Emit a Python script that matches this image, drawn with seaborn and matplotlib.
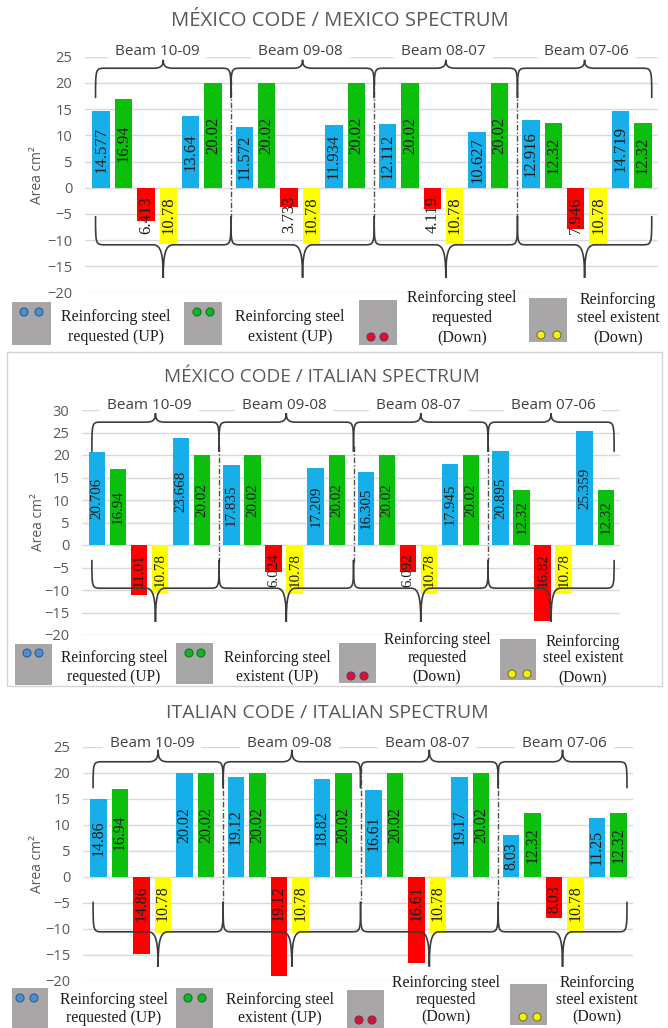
import numpy as np
import pandas as pd
import matplotlib
matplotlib.use("Agg")
import matplotlib.pyplot as plt
import seaborn as sns
from matplotlib.path import Path
from matplotlib.patches import PathPatch, Rectangle, Ellipse

sns.set_theme(style="white")
plt.rcParams["font.family"] = ["Open Sans", "DejaVu Sans"]
SERIF = ["Liberation Serif", "DejaVu Serif"]

W, H = 668, 1028  # figure size in pixels (dpi 100)

# ---------------------------------------------------------------- data
beams = ["Beam 10-09", "Beam 09-08", "Beam 08-07", "Beam 07-06"]
# order of the six bars inside every beam
bar_kinds = ["req_up", "ext_up", "req_down", "ext_down", "req_up", "ext_up"]
kind_colors = {"req_up": "#17AFEA", "ext_up": "#0DBF0D",
               "req_down": "#FF0000", "ext_down": "#FFFF00"}

titles = ["MÉXICO CODE / MEXICO SPECTRUM",
          "MÉXICO CODE / ITALIAN SPECTRUM",
          "ITALIAN CODE / ITALIAN SPECTRUM"]

# steel area (cm²), beam by beam; bottom steel drawn downward
mex_code_mex_spec = [14.577, 16.94, -6.413, -10.78, 13.64, 20.02,
                     11.572, 20.02, -3.733, -10.78, 11.934, 20.02,
                     12.112, 20.02, -4.119, -10.78, 10.627, 20.02,
                     12.916, 12.32, -7.946, -10.78, 14.719, 12.32]
mex_code_ita_spec = [20.706, 16.94, -11.01, -10.78, 23.668, 20.02,
                     17.835, 20.02, -6.024, -10.78, 17.209, 20.02,
                     16.305, 20.02, -6.092, -10.78, 17.945, 20.02,
                     20.895, 12.32, -16.82, -10.78, 25.359, 12.32]
ita_code_ita_spec = [14.86, 16.94, -14.86, -10.78, 20.02, 20.02,
                     19.12, 20.02, -19.12, -10.78, 18.82, 20.02,
                     16.61, 20.02, -16.61, -10.78, 19.17, 20.02,
                     8.03, 12.32, -8.03, -10.78, 11.25, 12.32]

y_ranges = [(-20, 25), (-20, 30), (-20, 25)]

legend_labels = [["Reinforcing steel", "requested (UP)"],
                 ["Reinforcing steel", "existent (UP)"],
                 ["Reinforcing steel", "requested", "(Down)"],
                 ["Reinforcing", "steel existent", "(Down)"]]
legend_dot_colors = [("#4A8FD6", "#2E5E96"), ("#12B52A", "#0B7A1B"),
                     ("#E0102A", "#7A2A6A"), ("#F2F20E", "#7A7A20")]

# ---------------------------------------------------------------- layout
BEAM_STEP = 6.4
SEPARATORS = [5.8, 12.2, 18.6]
BRACE_SPANS = [(-0.25, 5.8), (5.8, 12.2), (12.2, 18.6), (18.6, 24.6)]

panels = [
    dict(values=mex_code_mex_spec, title=titles[0], ylim=y_ranges[0],
         rect=(85, 658, 56.7, 292.5), title_xy=(340, 21), title_fs=14.6,
         beam_y=25.9, bar_fs=12.0, tick_fs=10.5,
         top=(17.1, 22.8, 24.4), bottom=(-5.4, -10.9, -17.2), sep=(20.5, -5.6),
         ylabel_x=45, legend_fs=11.5,
         boxes=[(12, 51, 302, 345), (184, 222, 302, 345), (359, 397, 300, 345), (529, 567, 298, 342)],
         dots=[[(24, 312), (39, 312)], [(197, 312), (210, 312)], [(371, 337), (384, 337)], [(541, 335), (557, 335)]],
         text_x=[116, 290, 462, 618],
         text_y=[[317, 337], [317, 337], [298, 318, 338], [300, 318, 338]]),
    dict(values=mex_code_ita_spec, title=titles[1], ylim=y_ranges[1],
         rect=(82, 620, 410, 635), title_xy=(322, 377), title_fs=13.7,
         beam_y=31.1, bar_fs=10.8, tick_fs=10.5,
         top=(20.7, 27.3, 29.3), bottom=(-3.3, -9.6, -17.1), sep=(22.0, -3.8),
         ylabel_x=46, legend_fs=11.2,
         boxes=[(15, 52, 644, 685), (176, 213, 643, 684), (339, 376, 643, 683), (500, 536, 639, 680)],
         dots=[[(27, 653), (39, 653)], [(189, 653), (201, 653)], [(351, 676), (364, 676)], [(512, 674), (527, 674)]],
         text_x=[114, 277, 437, 583],
         text_y=[[658, 677], [658, 677], [640, 658, 677], [642, 658, 678]]),
    dict(values=ita_code_ita_spec, title=titles[2], ylim=y_ranges[2],
         rect=(83, 633, 746.7, 980.7), title_xy=(327, 713), title_fs=14.0,
         beam_y=25.7, bar_fs=11.4, tick_fs=10.5,
         top=(17.0, 22.1, 24.4), bottom=(-4.8, -10.6, -17.3), sep=(21.0, -5.0),
         ylabel_x=45, legend_fs=11.3,
         boxes=[(12, 48, 988, 1032), (176, 213, 988, 1032), (347, 384, 990, 1032), (510, 547, 984, 1025)],
         dots=[[(20, 998), (34, 998)], [(188, 998), (202, 998)], [(359, 1020), (372, 1020)], [(523, 1017), (537, 1017)]],
         text_x=[114, 280, 446, 597],
         text_y=[[1000, 1018], [1000, 1018], [983, 1000, 1017], [983, 1000, 1017]]),
]


def fx(x):
    return x / W


def fy(y):
    return 1 - y / H


def brace(ax, x0, x1, y_end, y_h, y_tip, r=0.45):
    xm = (x0 + x1) / 2
    k = y_tip - y_h
    verts = [(x0, y_end),
             (x0, y_h), (x0, y_h), (x0 + r, y_h),
             (xm - r, y_h),
             (xm - r * 0.2, y_h), (xm, y_h + 0.3 * k), (xm, y_tip),
             (xm, y_h + 0.3 * k), (xm + r * 0.2, y_h), (xm + r, y_h),
             (x1 - r, y_h),
             (x1, y_h), (x1, y_h), (x1, y_end)]
    codes = [Path.MOVETO,
             Path.CURVE4, Path.CURVE4, Path.CURVE4,
             Path.LINETO,
             Path.CURVE4, Path.CURVE4, Path.CURVE4,
             Path.CURVE4, Path.CURVE4, Path.CURVE4,
             Path.LINETO,
             Path.CURVE4, Path.CURVE4, Path.CURVE4]
    ax.add_patch(PathPatch(Path(verts, codes), fill=False, edgecolor="#3c3c3c",
                           lw=1.2, zorder=5, clip_on=False))


fig = plt.figure(figsize=(W / 100, H / 100), dpi=100)
fig.patch.set_facecolor("white")

# light frame around the middle chart
fig.add_artist(Rectangle((fx(7), fy(686)), (662 - 7) / W, (686 - 352) / H,
                         transform=fig.transFigure, fill=False,
                         edgecolor="#D4D4D4", lw=1))

for p in panels:
    left, right, top, bottom = p["rect"]
    ax = fig.add_axes([fx(left), fy(bottom), (right - left) / W, (bottom - top) / H])

    n_beams = len(beams)
    df = pd.DataFrame({
        "pos": [b * BEAM_STEP + i for b in range(n_beams) for i in range(len(bar_kinds))],
        "value": p["values"],
        "kind": bar_kinds * n_beams,
    })

    sns.barplot(data=df, x="pos", y="value", hue="kind", palette=kind_colors,
                native_scale=True, dodge=False, width=0.78, saturation=1,
                linewidth=0, errorbar=None, legend=False, ax=ax, zorder=2)

    lo, hi = p["ylim"]
    ax.set_xlim(-0.72, 24.88)
    ax.set_ylim(lo, hi)
    ax.set_yticks(np.arange(lo, hi + 1, 5))
    ax.set_xticks([])
    ax.set_xlabel("")
    for s in ax.spines.values():
        s.set_visible(False)
    ax.set_axisbelow(True)
    ax.yaxis.grid(True, color="#D9D9D9", lw=1)
    ax.tick_params(axis="y", length=0, pad=9, labelsize=p["tick_fs"], labelcolor="#595959")

    ax.set_ylabel("Area cm²", fontsize=10, color="#595959")
    ax.yaxis.set_label_coords((p["ylabel_x"] - left) / (right - left), 0.5)

    # value labels inside the bars
    for _, row in df.iterrows():
        v = row["value"]
        txt = str(abs(v))
        if v >= 0:
            ax.text(row["pos"], v / 2, txt, rotation=90, ha="center", va="center",
                    fontsize=p["bar_fs"], family=SERIF, color="#1c1c1c", zorder=6)
        else:
            ax.annotate(txt, (row["pos"], 0), xytext=(0, -6), textcoords="offset points",
                        rotation=90, ha="center", va="top", fontsize=p["bar_fs"],
                        family=SERIF, color="#1c1c1c", zorder=6, annotation_clip=False)

    # beam names, braces and separators
    for b, name in enumerate(beams):
        x0, x1 = BRACE_SPANS[b]
        ax.text(b * BEAM_STEP + 2.5, p["beam_y"], name, ha="center", va="center",
                fontsize=11, color="#404040", zorder=3, clip_on=False,
                bbox=dict(boxstyle="square,pad=0.45", fc="white", ec="none"))
        brace(ax, x0, x1, *p["top"])
        brace(ax, x0, x1, *p["bottom"])
    for xs in SEPARATORS:
        ax.plot([xs, xs], list(p["sep"]), color="#505050", lw=1,
                ls=(0, (4, 1.5, 1, 1.5)), zorder=4, clip_on=False)

    # title
    fig.text(fx(p["title_xy"][0]), fy(p["title_xy"][1]), p["title"], ha="center",
             va="center", fontsize=p["title_fs"], color="#595959")

    # legend: grey cross-section boxes with coloured bars and serif captions
    for (bx0, bx1, by0, by1), dots, (dc, ec), lines, tx, tys in zip(
            p["boxes"], p["dots"], legend_dot_colors, legend_labels,
            p["text_x"], p["text_y"]):
        fig.add_artist(Rectangle((fx(bx0), fy(by1)), (bx1 - bx0) / W, (by1 - by0) / H,
                                 transform=fig.transFigure, fc="#A8A6A6", ec="none"))
        for (dx, dy) in dots:
            fig.add_artist(Ellipse((fx(dx), fy(dy)), 8 / W, 8 / H, transform=fig.transFigure,
                                   fc=dc, ec=ec, lw=0.8))
        for line, ty in zip(lines, tys):
            fig.text(fx(tx), fy(ty), line, ha="center", va="center",
                     fontsize=p["legend_fs"], family=SERIF, color="#1c1c1c")

fig.savefig("out.png", dpi=100, facecolor="white")
